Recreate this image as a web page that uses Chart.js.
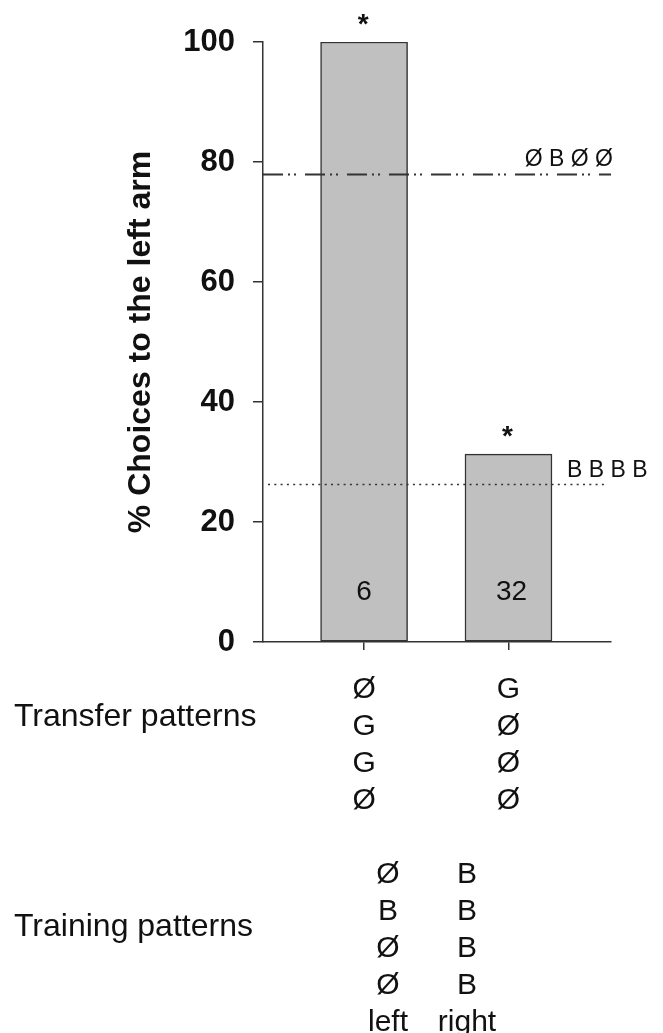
<!DOCTYPE html>
<html>
<head>
<meta charset="utf-8">
<script src="https://cdn.jsdelivr.net/npm/chart.js@4"></script>
<style>
    body { margin: 0; background: #fff; }
    #wrap { width: 663px; height: 1033px; position: relative; }
</style>
</head>
<body>
<div id="wrap"><canvas id="choiceChart"></canvas></div>
<script>
// values
const transferPatterns = [['Ø', 'G', 'G', 'Ø'], ['G', 'Ø', 'Ø', 'Ø']];
const choicesPct = [100, 31.3];
const sampleSizes = [6, 32];
const significant = [true, true];
const trainingLeft = ['Ø', 'B', 'Ø', 'Ø'];
const trainingRight = ['B', 'B', 'B', 'B'];
const refValues = [78, 26.3];
const refLabels = ['Ø B Ø Ø', 'B B B B'];
const yTicks = [0, 20, 40, 60, 80, 100];

const FONT = '"Liberation Sans", Arial, Helvetica, sans-serif';
const INK = '#111';
const LINE = '#333';

const annotations = {
    id: 'annotations',
    afterDatasetsDraw(chart) {
        const { ctx, chartArea } = chart;
        const x = chart.scales.x;
        const y = chart.scales.y;
        ctx.save();

        // reference lines from the training patterns
        const dashes = [[20, 5, 2, 4, 2, 9], [2, 4.3]];
        refValues.forEach((v, i) => {
            const py = Math.round(y.getPixelForValue(v)) + 0.5;
            ctx.strokeStyle = LINE;
            ctx.lineWidth = i === 0 ? 1.8 : 1.6;
            ctx.setLineDash(dashes[i]);
            ctx.beginPath();
            ctx.moveTo(chartArea.left + (i === 0 ? 0 : 5), py);
            ctx.lineTo(chartArea.right - (i === 0 ? 0 : 4), py);
            ctx.stroke();
        });
        ctx.setLineDash([]);

        ctx.fillStyle = INK;
        ctx.font = '23px ' + FONT;
        ctx.textBaseline = 'alphabetic';
        ctx.textAlign = 'right';
        ctx.fillText(refLabels[0], chartArea.right + 2, y.getPixelForValue(refValues[0]) - 8);
        ctx.textAlign = 'left';
        ctx.fillText(refLabels[1], chartArea.right - 44, y.getPixelForValue(refValues[1]) - 7);

        // stars and n inside bars
        choicesPct.forEach((v, i) => {
            const px = x.getPixelForValue(i + 1);
            if (significant[i]) {
                ctx.font = 'bold 28px ' + FONT;
                ctx.textAlign = 'center';
                ctx.fillText('*', px - 1, y.getPixelForValue(v) - 9);
            }
            ctx.font = '28px ' + FONT;
            ctx.textAlign = 'center';
            ctx.fillText(String(sampleSizes[i]), px + (i === 0 ? 0 : 3), y.getPixelForValue(0) - 42);
        });
        ctx.restore();
    },
    afterDraw(chart) {
        const { ctx } = chart;
        const x = chart.scales.x;
        ctx.save();
        ctx.fillStyle = INK;
        ctx.textBaseline = 'middle';

        ctx.font = '32px ' + FONT;
        ctx.textAlign = 'left';
        ctx.fillText('Transfer patterns', 14, 717);
        ctx.fillText('Training patterns', 14, 927);

        ctx.font = '30px ' + FONT;
        ctx.textAlign = 'center';
        transferPatterns.forEach((col, i) => {
            const px = x.getPixelForValue(i + 1);
            col.forEach((s, r) => ctx.fillText(s, px, 690 + r * 37));
        });

        const colX = [388, 467];
        [trainingLeft, trainingRight].forEach((col, i) => {
            col.forEach((s, r) => ctx.fillText(s, colX[i], 875 + r * 37));
        });
        ctx.fillText('left', colX[0], 1023);
        ctx.fillText('right', colX[1], 1023);
        ctx.restore();
    }
};

const choiceChart = document.getElementById('choiceChart');

new Chart(choiceChart, {
    type: 'bar',
    data: {
        datasets: [
            {
                data: choicesPct.map((v, i) => ({ x: i + 1, y: v })),
                backgroundColor: '#c0c0c0',
                borderColor: LINE,
                borderWidth: 1.5,
                borderSkipped: false,
                barThickness: 87
            }
        ]
    },
    options: {
        responsive: true,
        maintainAspectRatio: false,
        animation: false,
        layout: {
            padding: { left: 0, top: 42, right: 52, bottom: 381 }
        },
        plugins: {
            legend: { display: false },
            tooltip: { enabled: false }
        },
        scales: {
            x: {
                type: 'linear',
                offset: false,
                min: 0.3,
                max: 2.71,
                afterBuildTicks: (axis) => {
                    axis.ticks = choicesPct.map((v, i) => ({ value: i + 1 }));
                },
                afterFit: (axis) => { axis.height = 10; },
                ticks: { display: false },
                grid: {
                    offset: false,
                    drawOnChartArea: false,
                    drawTicks: true,
                    tickLength: 8,
                    color: LINE,
                    lineWidth: 1.5
                },
                border: { display: true, color: LINE, width: 1.5 }
            },
            y: {
                min: 0,
                max: 100,
                afterBuildTicks: (axis) => {
                    axis.ticks = yTicks.map(v => ({ value: v }));
                },
                afterFit: (axis) => { axis.width = 263; },
                ticks: {
                    color: INK,
                    padding: 18,
                    font: { family: FONT, size: 31, weight: 'bold' }
                },
                grid: {
                    drawOnChartArea: false,
                    drawTicks: true,
                    tickLength: 10,
                    color: LINE,
                    lineWidth: 1.5
                },
                border: { display: true, color: LINE, width: 1.5 },
                title: {
                    display: true,
                    text: '% Choices to the left arm',
                    color: INK,
                    font: { family: FONT, size: 32, weight: 'bold', lineHeight: 1.2 },
                    padding: { top: 122, bottom: 0 }
                }
            }
        }
    },
    plugins: [annotations]
});
</script>
</body>
</html>
